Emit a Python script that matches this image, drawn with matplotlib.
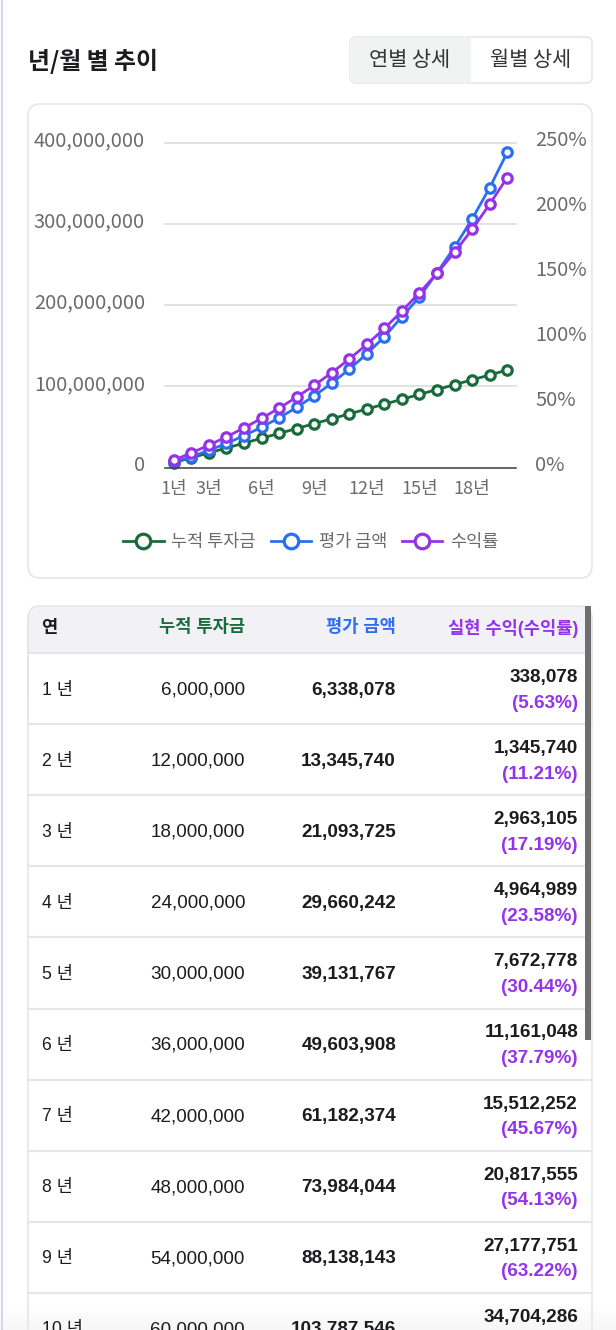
import numpy as np
import matplotlib
matplotlib.use('Agg')
import matplotlib.pyplot as plt
from matplotlib.lines import Line2D
from matplotlib.patches import FancyBboxPatch, Rectangle
from matplotlib.transforms import ScaledTranslation

# chart data
years = list(range(1, 21))
invested = [6, 12, 18, 24, 30, 36, 42, 48, 54, 60, 66, 72, 78, 84, 90, 96, 102, 108, 114, 120]
valuation = [6.34, 13.35, 21.09, 29.66, 39.13, 49.60, 61.18, 73.98, 88.14, 103.79,
             121, 140, 161, 185.7, 210, 240, 271.5, 306, 344.5, 388]
rate = [5.63, 11.21, 17.19, 23.58, 30.44, 37.79, 45.67, 54.13, 63.22, 72.9,
        83.5, 94.7, 107, 120.4, 134.5, 149.4, 165.8, 183.2, 202.7, 223.2]
left_ticks = [0, 100, 200, 300, 400]
left_labels = ['0', '100,000,000', '200,000,000', '300,000,000', '400,000,000']
right_ticks = [0, 50, 100, 150, 200, 250]
right_labels = ['0%', '50%', '100%', '150%', '200%', '250%']
x_ticks = [1, 3, 6, 9, 12, 15, 18]
x_labels = ['1년', '3년', '6년', '9년', '12년', '15년', '18년']

# table data
headers = ['연', '누적 투자금', '평가 금액', '실현 수익(수익률)']
table_invested = [6000000, 12000000, 18000000, 24000000, 30000000, 36000000, 42000000, 48000000, 54000000, 60000000]
table_value = [6338078, 13345740, 21093725, 29660242, 39131767, 49603908, 61182374, 73984044, 88138143, 103787546]
table_profit = [338078, 1345740, 2963105, 4964989, 7672778, 11161048, 15512252, 20817555, 27177751, 34704286]
table_rate = ['(5.63%)', '(11.21%)', '(17.19%)', '(23.58%)', '(30.44%)', '(37.79%)', '(45.67%)', '(54.13%)', '(63.22%)']

GREEN = '#1a6b3c'
BLUE = '#2b6ff0'
PURPLE = '#9333ea'
GRAY = '#6b6b6b'
BORDER = '#e4e4ea'
KR = ['Noto Sans CJK KR', 'DejaVu Sans']
TABLE_FONT = ['Liberation Sans', 'Noto Sans CJK KR']

plt.rcParams['font.family'] = KR

W, H = 616, 1330
fig = plt.figure(figsize=(W / 100, H / 100), dpi=100, facecolor='white')

# background layer in pixel coords
bg = fig.add_axes([0, 0, 1, 1], zorder=0)
bg.set_xlim(0, W)
bg.set_ylim(H, 0)
bg.axis('off')


def round_box(x0, y0, x1, y1, r, face='white', edge=BORDER, lw=1.1):
    box = FancyBboxPatch((x0 + r, y0 + r), x1 - x0 - 2 * r, y1 - y0 - 2 * r,
                         boxstyle='round,pad=%d,rounding_size=%d' % (r, r),
                         facecolor=face, edgecolor=edge, linewidth=lw)
    bg.add_patch(box)
    return box


bg.plot([1.5, 1.5], [0, H], color='#d6d4ee', lw=1.4)

# title and toggle
bg.text(28, 61, '년/월 별 추이', fontsize=17.2, fontweight='bold', color='#1c1c1e', va='center')
btn = round_box(350, 37, 592, 83, 6)
shade = Rectangle((350, 37), 121, 46, facecolor='#f1f3f3', edgecolor='none')
bg.add_patch(shade)
shade.set_clip_path(btn)
bg.text(410, 60, '연별 상세', fontsize=15, color='#333333', ha='center', va='center')
bg.text(531, 60, '월별 상세', fontsize=15, color='#333333', ha='center', va='center')

# chart card
round_box(28, 104, 592, 578, 12)

# chart
ax = fig.add_axes([165 / W, 1 - 467.5 / H, 351 / W, 324.8 / H], zorder=2)
ax.patch.set_alpha(0)
ax.set_xlim(0.5, 20.5)
ax.set_ylim(0, 400)
ax2 = ax.twinx()
ax2.set_zorder(3)
ax2.patch.set_alpha(0)
ax2.set_ylim(0, 250)

for a in (ax, ax2):
    for s in a.spines.values():
        s.set_visible(False)
ax.spines['bottom'].set_visible(True)
ax.spines['bottom'].set_color('#444444')
ax.spines['bottom'].set_linewidth(1.1)

ax.set_yticks(left_ticks)
ax.set_yticklabels(left_labels, fontsize=14.4, color=GRAY)
ax.set_xticks(x_ticks)
ax.set_xticklabels(x_labels, fontsize=13, color=GRAY)
ax.tick_params(axis='y', length=0, pad=14.5)
ax.tick_params(axis='x', length=0, pad=9)
ax.grid(axis='y', color='#dddddd', lw=1.2, clip_on=False)
ax.set_axisbelow(True)

ax2.set_yticks(right_ticks)
ax2.set_yticklabels(right_labels, fontsize=14.4, color=GRAY)
ax2.tick_params(axis='y', length=0, pad=14)

# labels sit a little above their gridline
up = ScaledTranslation(0, 4.5 / 100, fig.dpi_scale_trans)
for lab in ax.get_yticklabels() + ax2.get_yticklabels():
    lab.set_transform(lab.get_transform() + up)

line_style = dict(lw=2.0, marker='o', ms=6.8, mew=2.3, mfc='white', clip_on=False)
ax.plot(years, invested, color=GREEN, **line_style)
ax.plot(years, valuation, color=BLUE, **line_style)
ax2.plot(years, rate, color=PURPLE, **line_style)

handles = [Line2D([], [], color=c, lw=2.0, marker='o', ms=10.5, mew=2.3, mfc='white')
           for c in (GREEN, BLUE, PURPLE)]
leg = bg.legend(handles, ['누적 투자금', '평가 금액', '수익률'], loc='center',
                bbox_to_anchor=(311, 542), bbox_transform=bg.transData, ncol=3, frameon=False,
                fontsize=12.6, handlelength=2.3, handletextpad=0.45, columnspacing=0.85, borderpad=0)
for t in leg.get_texts():
    t.set_color(GRAY)

# table
table_top = 606
header_bottom = 652
row_h = 71.1
col_right = [245, 396, 578]

# fade at the bottom, under the rows
fade = np.linspace(1, 0.965, 30).reshape(-1, 1)
bg.imshow(fade, extent=(0, W, H, H - 30), cmap='gray', vmin=0, vmax=1, aspect='auto', zorder=0.5)
bg.set_xlim(0, W)
bg.set_ylim(H, 0)

bg.plot([28, 28], [620, H], color=BORDER, lw=1.1)
bg.plot([592, 592], [620, H], color=BORDER, lw=1.1)
head = round_box(28, table_top, 592, 700, 12, face='#f2f2f6')
bg.add_patch(Rectangle((27.5, header_bottom), 565, 60, facecolor='white', edgecolor='none'))
bg.plot([28, 28], [header_bottom, 720], color=BORDER, lw=1.1)
bg.plot([592, 592], [header_bottom, 720], color=BORDER, lw=1.1)
bg.plot([28, 592], [header_bottom + 1, header_bottom + 1], color='#e6e6e6', lw=1.5)

head_y = 628
bg.text(41, head_y, headers[0], fontsize=12.7, fontweight='bold', color='#1c1c1e', va='center', family=TABLE_FONT)
for h, x, c in zip(headers[1:], col_right, (GREEN, BLUE, PURPLE)):
    bg.text(x, head_y, h, fontsize=12.7, fontweight='bold', color=c, ha='right', va='center', family=TABLE_FONT)

for i in range(len(table_invested)):
    mid = 690 + i * row_h
    bg.text(42, mid, '%d 년' % (i + 1), fontsize=12.7, color='#1c1c1e', va='center', family=TABLE_FONT)
    bg.text(col_right[0], mid, f'{table_invested[i]:,}', fontsize=13.6, color='#1c1c1e',
            ha='right', va='center', family=TABLE_FONT)
    bg.text(col_right[1], mid, f'{table_value[i]:,}', fontsize=13.6, fontweight='bold', color='#1c1c1e',
            ha='right', va='center', family=TABLE_FONT)
    bg.text(col_right[2], mid - 12.5, f'{table_profit[i]:,}', fontsize=13.6, fontweight='bold', color='#1c1c1e',
            ha='right', va='center', family=TABLE_FONT)
    if i < len(table_rate):
        bg.text(col_right[2], mid + 13, table_rate[i], fontsize=13.6, fontweight='bold', color=PURPLE,
                ha='right', va='center', family=TABLE_FONT)
    if i > 0:
        line_y = header_bottom + 1 + i * row_h
        bg.plot([28, 592], [line_y, line_y], color='#e6e6e6', lw=1.5)

# scrollbar
bg.add_patch(Rectangle((585, table_top), 6, 434, facecolor='#6e6e6e', edgecolor='none', zorder=4))

fig.savefig('out.png', dpi=100)
